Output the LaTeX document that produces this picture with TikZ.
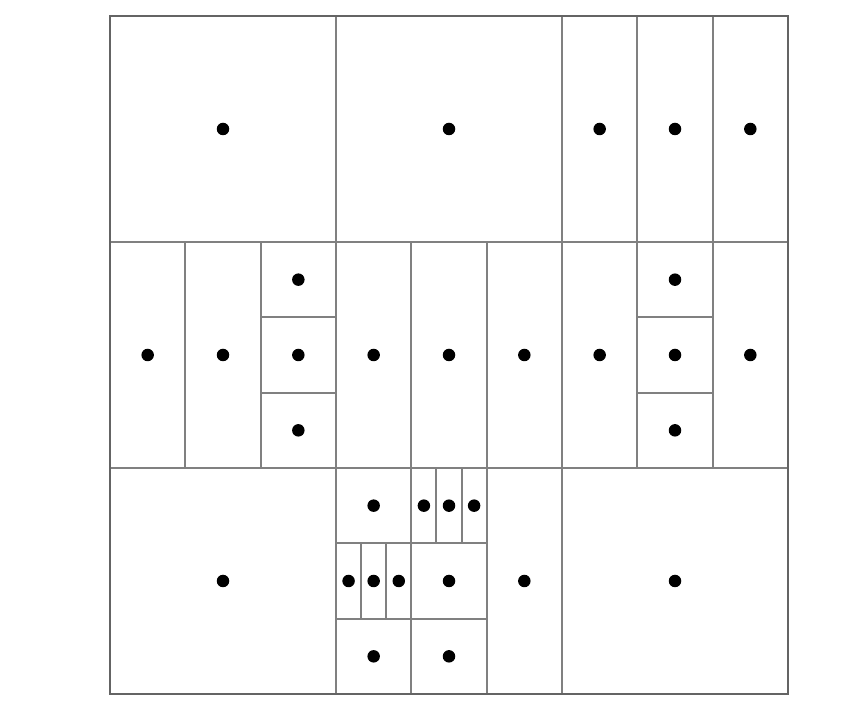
\documentclass[tikz,border=0pt]{standalone}
\usepackage{tikz}
\usetikzlibrary{positioning}
\definecolor{linea}{RGB}{128,128,128}
\definecolor{borde}{RGB}{100,100,100}

\begin{document}
\begin{tikzpicture}[x=1.50667cm, y=1.50667cm,
  cut/.style={draw=linea, line width=1.1pt},
  seed/.style={circle, fill=black, inner sep=0pt, minimum size=0.25cm}]
  \useasboundingbox (-2.2cm,-0.52cm) rectangle ++(17.14cm,14.4cm);
  % coarse grid
  \foreach \k in {3,6} {
    \draw[cut] (\k,0) -- (\k,9);
    \draw[cut] (0,\k) -- (9,\k);
  }
  % top row, right cell
  \foreach \x in {7,8} \draw[cut] (\x,6) -- (\x,9);
  % middle row
  \foreach \x in {1,2,4,5,7,8} \draw[cut] (\x,3) -- (\x,6);
  \foreach \y in {4,5} {
    \draw[cut] (2,\y) -- (3,\y);
    \draw[cut] (7,\y) -- (8,\y);
  }
  % bottom row, centre cell
  \foreach \x in {4,5} \draw[cut] (\x,0) -- (\x,3);
  \foreach \y in {1,2} \draw[cut] (3,\y) -- (5,\y);
  \foreach \x in {3.3333,3.6667} \draw[cut] (\x,1) -- (\x,2);
  \foreach \x in {4.3333,4.6667} \draw[cut] (\x,2) -- (\x,3);
  \draw[borde, line width=1.2pt] (0,0) rectangle (9,9);
  % sample points
  \foreach \x/\y [count=\i] in {1.5/7.5, 4.5/7.5, 6.5/7.5, 7.5/7.5, 8.5/7.5,
      0.5/4.5, 1.5/4.5, 2.5/5.5, 2.5/4.5, 2.5/3.5, 3.5/4.5, 4.5/4.5, 5.5/4.5,
      6.5/4.5, 7.5/5.5, 7.5/4.5, 7.5/3.5, 8.5/4.5,
      1.5/1.5, 3.5/2.5, 3.1667/1.5, 3.5/1.5, 3.8333/1.5, 3.5/0.5,
      4.1667/2.5, 4.5/2.5, 4.8333/2.5, 4.5/1.5, 4.5/0.5, 5.5/1.5, 7.5/1.5}
    \node[seed] (s\i) at (\x,\y) {};
\end{tikzpicture}
\end{document}
